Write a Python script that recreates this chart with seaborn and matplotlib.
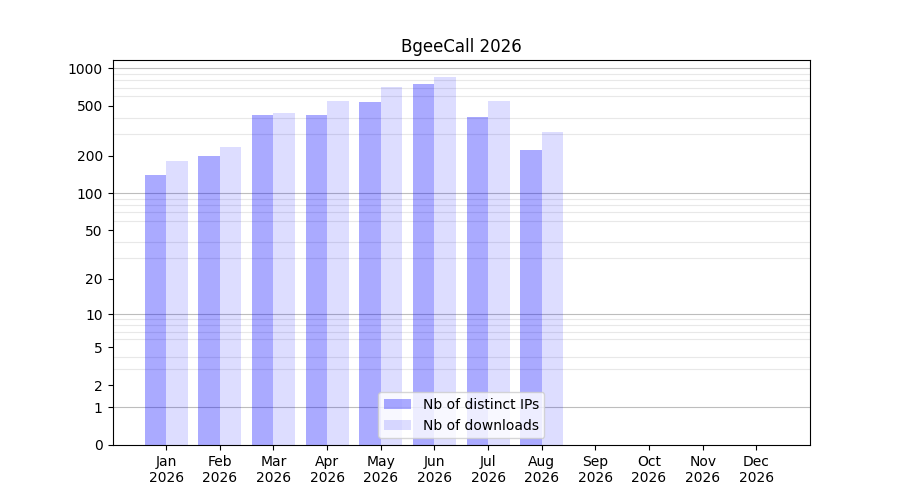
import numpy as np
import pandas as pd
import matplotlib
matplotlib.use("Agg")
import matplotlib.pyplot as plt
import seaborn as sns
from matplotlib.ticker import FixedLocator, NullFormatter

months = ["Jan\n2026", "Feb\n2026", "Mar\n2026", "Apr\n2026", "May\n2026", "Jun\n2026",
          "Jul\n2026", "Aug\n2026", "Sep\n2026", "Oct\n2026", "Nov\n2026", "Dec\n2026"]
data_months = months[:8]
distinct_ips = [140, 198, 422, 422, 535, 746, 407, 221]
downloads = [181, 234, 437, 545, 706, 849, 545, 308]
series_names = ["Nb of distinct IPs", "Nb of downloads"]
y_ticks = [0, 1, 2, 5, 10, 20, 50, 100, 200, 500, 1000]

df = pd.DataFrame({
    "month": data_months * 2,
    "series": [series_names[0]] * len(data_months) + [series_names[1]] * len(data_months),
    "value": distinct_ips + downloads,
})

fig, ax = plt.subplots(figsize=(9, 5), dpi=100)
sns.barplot(data=df, x="month", y="value", hue="series", order=months,
            hue_order=series_names, palette=["blue", "blue"], saturation=1,
            width=0.8, ax=ax, legend=False)

alphas = [0.333, 0.135]
for cont, a in zip(ax.containers, alphas):
    for p in cont:
        p.set_facecolor((0, 0, 1, a))
        p.set_edgecolor("none")

ax.set_yscale("function", functions=(lambda x: np.log10(1 + np.clip(x, 0, None)),
                                      lambda y: 10 ** y - 1))
ax.set_ylim(0, 1160)
ax.set_xlim(-1, 12)

ax.yaxis.set_major_locator(FixedLocator(y_ticks))
ax.set_yticklabels([str(t) for t in y_ticks])
minor = [m * d for d in (1, 10, 100) for m in range(2, 10)]
ax.yaxis.set_minor_locator(FixedLocator(minor))
ax.yaxis.set_minor_formatter(NullFormatter())
ax.tick_params(axis="y", which="minor", length=0)
ax.grid(False)
ax.grid(which="minor", axis="y", color="#e8e8e8", linewidth=0.8)
for d in (1, 10, 100, 1000):
    ax.axhline(d, color="#bdbdbd", linewidth=0.8, zorder=0.5)
ax.set_axisbelow(True)

ax.set_xlabel("")
ax.set_ylabel("")
ax.set_title("BgeeCall 2026")

handles = [plt.Rectangle((0, 0), 1, 1, facecolor=(0, 0, 1, a)) for a in alphas]
ax.legend(handles, series_names, loc="lower center")

fig.subplots_adjust(left=0.125, right=0.9, bottom=0.11, top=0.88)
fig.savefig("out.png", dpi=100)
